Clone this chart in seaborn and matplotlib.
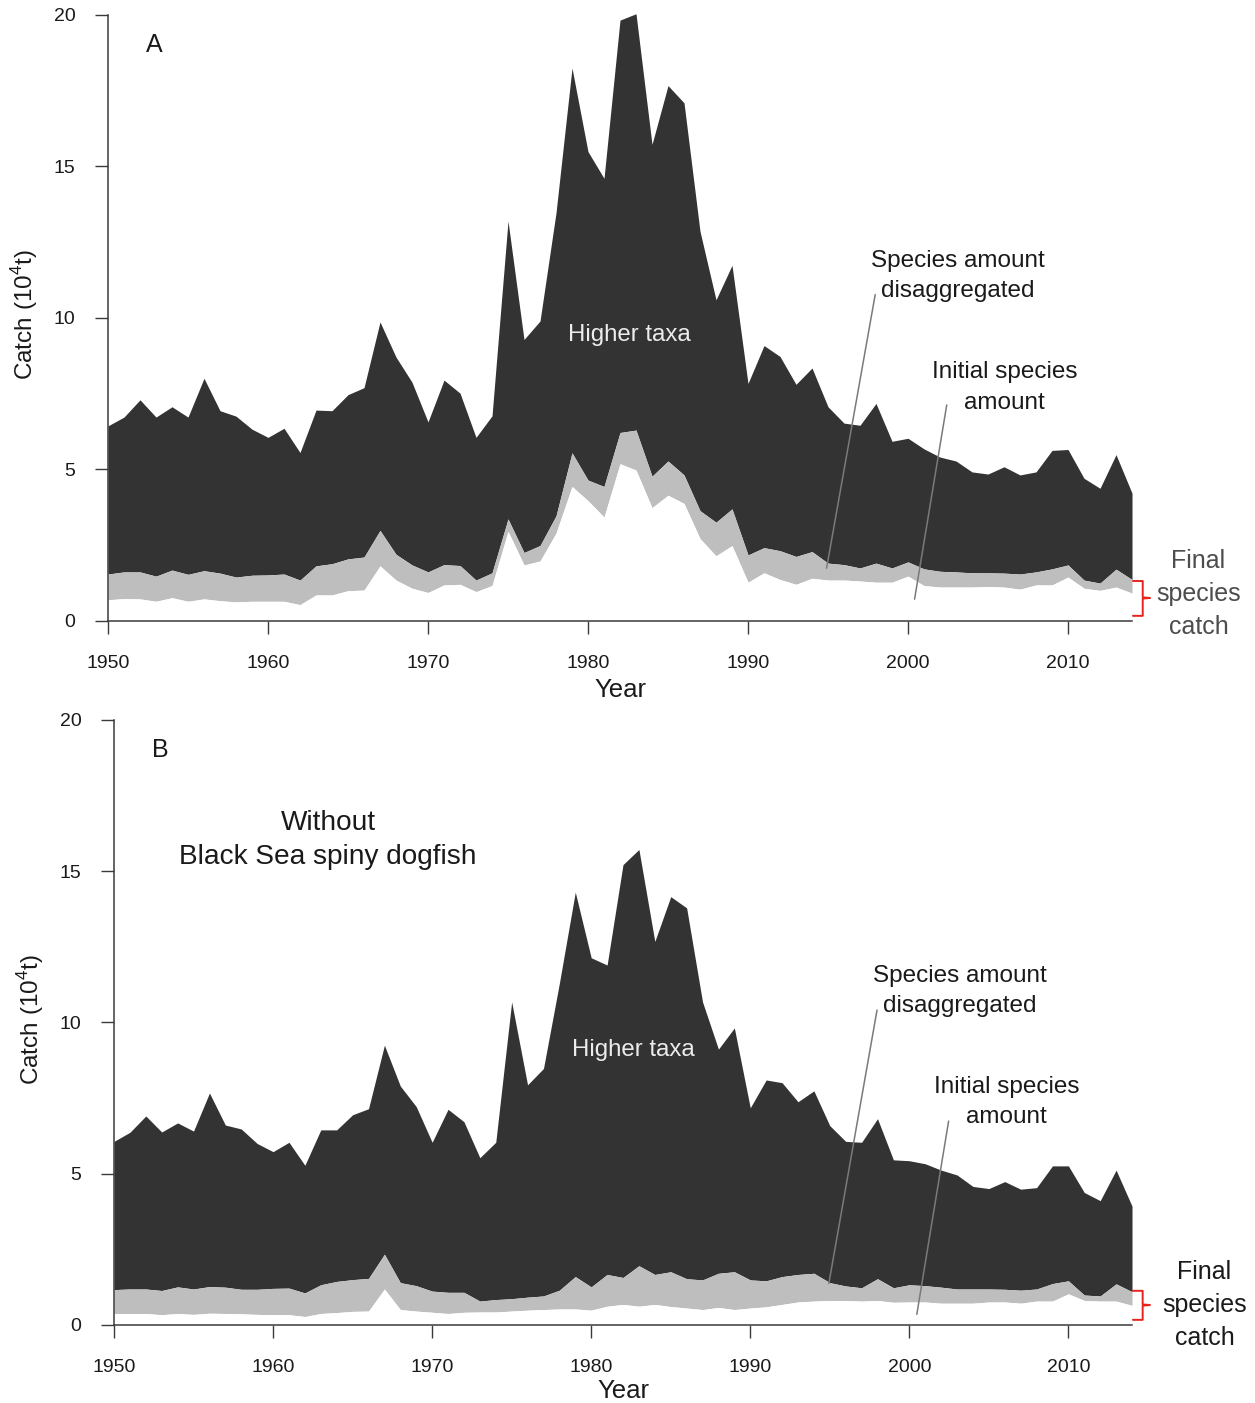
import matplotlib
matplotlib.use("Agg")
import matplotlib.pyplot as plt
import seaborn as sns
import pandas as pd

# ---- data (catch, 10^4 t) ----
years = list(range(1950, 2015))

a_total = [6.44, 6.73, 7.30, 6.73, 7.07, 6.73, 8.01, 6.94, 6.76, 6.33,
           6.06, 6.36, 5.56, 6.96, 6.94, 7.47, 7.70, 9.87, 8.71, 7.88,
           6.57, 7.95, 7.52, 6.06, 6.77, 13.2, 9.29, 9.90, 13.47, 18.25,
           15.49, 14.61, 19.83, 20.04, 15.73, 17.67, 17.1, 12.86, 10.6, 11.74,
           7.84, 9.09, 8.73, 7.81, 8.35, 7.07, 6.53, 6.46, 7.18, 5.93,
           6.03, 5.68, 5.41, 5.28, 4.92, 4.85, 5.09, 4.82, 4.92, 5.63,
           5.66, 4.71, 4.38, 5.49, 4.22]
a_disagg = [1.55, 1.62, 1.62, 1.48, 1.68, 1.54, 1.66, 1.58, 1.45, 1.51,
            1.52, 1.55, 1.35, 1.82, 1.89, 2.05, 2.11, 2.99, 2.20, 1.85,
            1.62, 1.86, 1.83, 1.35, 1.59, 3.37, 2.26, 2.49, 3.47, 5.55,
            4.65, 4.44, 6.22, 6.30, 4.78, 5.28, 4.82, 3.64, 3.26, 3.70,
            2.18, 2.42, 2.32, 2.13, 2.29, 1.91, 1.86, 1.75, 1.91, 1.75,
            1.95, 1.72, 1.64, 1.62, 1.59, 1.59, 1.58, 1.55, 1.62, 1.72,
            1.85, 1.35, 1.25, 1.71, 1.37]
a_initial = [0.70, 0.74, 0.73, 0.65, 0.77, 0.65, 0.73, 0.67, 0.63, 0.65,
             0.65, 0.65, 0.54, 0.86, 0.86, 1.00, 1.02, 1.82, 1.35, 1.08,
             0.94, 1.19, 1.21, 0.97, 1.17, 2.96, 1.85, 1.98, 2.90, 4.44,
             3.97, 3.43, 5.19, 4.98, 3.74, 4.15, 3.88, 2.72, 2.15, 2.49,
             1.28, 1.59, 1.37, 1.21, 1.41, 1.35, 1.35, 1.32, 1.28, 1.28,
             1.48, 1.17, 1.12, 1.12, 1.12, 1.14, 1.12, 1.05, 1.19, 1.19,
             1.45, 1.08, 1.01, 1.12, 0.92]

b_total = [6.07, 6.37, 6.91, 6.38, 6.68, 6.41, 7.67, 6.61, 6.48, 6.00,
           5.73, 6.04, 5.28, 6.45, 6.45, 6.95, 7.15, 9.25, 7.90, 7.22,
           6.04, 7.13, 6.72, 5.53, 6.04, 10.68, 7.94, 8.48, 11.3, 14.31,
           12.14, 11.9, 15.22, 15.72, 12.68, 14.16, 13.79, 10.68, 9.12, 9.82,
           7.18, 8.10, 8.01, 7.38, 7.74, 6.59, 6.07, 6.04, 6.82, 5.46,
           5.43, 5.33, 5.12, 4.96, 4.58, 4.51, 4.74, 4.49, 4.54, 5.26,
           5.26, 4.38, 4.11, 5.12, 3.93]
b_disagg = [1.17, 1.19, 1.19, 1.14, 1.26, 1.19, 1.27, 1.25, 1.18, 1.18,
            1.21, 1.22, 1.06, 1.33, 1.44, 1.50, 1.54, 2.34, 1.40, 1.30,
            1.12, 1.08, 1.08, 0.79, 0.84, 0.87, 0.92, 0.96, 1.15, 1.60,
            1.26, 1.67, 1.57, 1.96, 1.67, 1.76, 1.53, 1.49, 1.71, 1.76,
            1.49, 1.46, 1.60, 1.67, 1.71, 1.40, 1.29, 1.23, 1.53, 1.23,
            1.33, 1.30, 1.25, 1.19, 1.19, 1.19, 1.18, 1.15, 1.19, 1.37,
            1.46, 0.99, 0.96, 1.36, 1.10]
b_initial = [0.38, 0.38, 0.38, 0.34, 0.38, 0.35, 0.39, 0.38, 0.37, 0.35,
             0.34, 0.34, 0.28, 0.38, 0.41, 0.45, 0.46, 1.19, 0.51, 0.46,
             0.42, 0.38, 0.42, 0.43, 0.43, 0.46, 0.49, 0.51, 0.53, 0.53,
             0.49, 0.62, 0.68, 0.62, 0.68, 0.61, 0.56, 0.51, 0.58, 0.51,
             0.56, 0.60, 0.68, 0.76, 0.79, 0.81, 0.81, 0.79, 0.81, 0.75,
             0.76, 0.76, 0.72, 0.72, 0.72, 0.76, 0.76, 0.72, 0.79, 0.79,
             1.03, 0.81, 0.79, 0.79, 0.65]

x_ticks = [1950, 1960, 1970, 1980, 1990, 2000, 2010]
y_ticks = [0, 5, 10, 15, 20]

# ---- style ----
sns.set_theme(style="ticks")
plt.rcParams["font.family"] = ["Liberation Sans", "DejaVu Sans"]
plt.rcParams["mathtext.fontset"] = "custom"
plt.rcParams["mathtext.rm"] = "Liberation Sans"

DARK = "#333333"
GREY = "#bebebe"
AXC = "#3a3a3a"
TXT = "#1a1a1a"
LINEC = "#7a7a7a"
RED = "#e8221f"

fig = plt.figure(figsize=(12.55, 14.03), dpi=100)
ax_a = fig.add_axes([0.08606, 0.55738, 0.81594, 0.43628])
ax_b = fig.add_axes([0.09084, 0.05560, 0.81116, 0.43553])


def draw_panel(ax, total, disagg, initial, letter, xlab_pad):
    df = pd.DataFrame({"year": years, "total": total,
                       "disagg": disagg, "initial": initial})
    ax.fill_between(df["year"], df["disagg"], df["total"],
                    color=DARK, lw=0, zorder=2)
    ax.fill_between(df["year"], df["initial"], df["disagg"],
                    color=GREY, lw=0, zorder=2)
    ax.fill_between(df["year"], 0, df["initial"],
                    color="white", lw=0, zorder=2)

    ax.set_xlim(1950, 2014)
    ax.set_ylim(0, 20.2)
    ax.set_xticks(x_ticks)
    ax.set_yticks(y_ticks)
    sns.despine(ax=ax, top=True, right=True)
    ax.spines["left"].set_bounds(0, 20)
    for s in ("left", "bottom"):
        ax.spines[s].set_color(AXC)
        ax.spines[s].set_linewidth(1.1)
        ax.spines[s].set_zorder(3)
    ax.tick_params(axis="both", direction="out", length=9.5, width=1.0,
                   color=AXC, labelsize=14, labelcolor=TXT)
    ax.tick_params(axis="y", pad=14)
    ax.tick_params(axis="x", pad=15)
    ax.set_xlabel("Year", fontsize=18.5, color=TXT, labelpad=xlab_pad)
    ax.set_ylabel(r"Catch (10$^{\mathregular{4}}$t)", fontsize=17.5,
                  color=TXT, labelpad=10)
    ax.text(1952.9, 19.0, letter, fontsize=18, color=TXT,
            ha="center", va="center")


draw_panel(ax_a, a_total, a_disagg, a_initial, "A", 4)
draw_panel(ax_b, b_total, b_disagg, b_initial, "B", 2)

ANN = dict(color=TXT, fontsize=17.5, ha="center", va="center",
           linespacing=1.5, zorder=4)

# ---- panel A annotations ----
ax_a.text(1982.6, 9.44, "Higher taxa", color="#ececec", fontsize=17.3,
          ha="center", va="center", zorder=4)
ax_a.text(2003.13, 11.39, "Species amount\ndisaggregated", **ANN)
ax_a.plot([1997.95, 1994.91], [10.77, 1.74], color=LINEC, lw=1.1, zorder=4)
ax_a.text(2006.04, 7.71, "Initial species\namount", **ANN)
ax_a.plot([2002.42, 2000.41], [7.13, 0.72], color=LINEC, lw=1.1, zorder=4)
ax_a.plot([2014.06, 2014.67, 2014.67, 2015.13, 2014.67, 2014.67, 2014.06],
          [1.32, 1.32, 0.78, 0.76, 0.74, 0.17, 0.17],
          color=RED, lw=1.4, clip_on=False, zorder=4)
ax_a.text(2018.15, 0.89, "Final\nspecies\ncatch", color="#4d4d4d",
          fontsize=18, ha="center", va="center", linespacing=1.45,
          clip_on=False)

# ---- panel B annotations ----
ax_b.text(1982.64, 9.09, "Higher taxa", color="#ececec", fontsize=17.3,
          ha="center", va="center", zorder=4)
ax_b.text(1963.46, 16.03, "Without\nBlack Sea spiny dogfish", color=TXT,
          fontsize=20.2, ha="center", va="center", linespacing=1.39,
          zorder=4)
ax_b.text(2003.2, 11.04, "Species amount\ndisaggregated", **ANN)
ax_b.plot([1997.97, 1994.94], [10.41, 1.37], color=LINEC, lw=1.1, zorder=4)
ax_b.text(2006.1, 7.37, "Initial species\namount", **ANN)
ax_b.plot([2002.47, 2000.47], [6.74, 0.35], color=LINEC, lw=1.1, zorder=4)
ax_b.plot([2014.06, 2014.67, 2014.67, 2015.13, 2014.67, 2014.67, 2014.06],
          [1.13, 1.13, 0.68, 0.66, 0.64, 0.17, 0.17],
          color=RED, lw=1.4, clip_on=False, zorder=4)
ax_b.text(2018.55, 0.66, "Final\nspecies\ncatch", color=TXT,
          fontsize=18, ha="center", va="center", linespacing=1.45,
          clip_on=False)

fig.savefig("out.png", dpi=100, facecolor="white")
